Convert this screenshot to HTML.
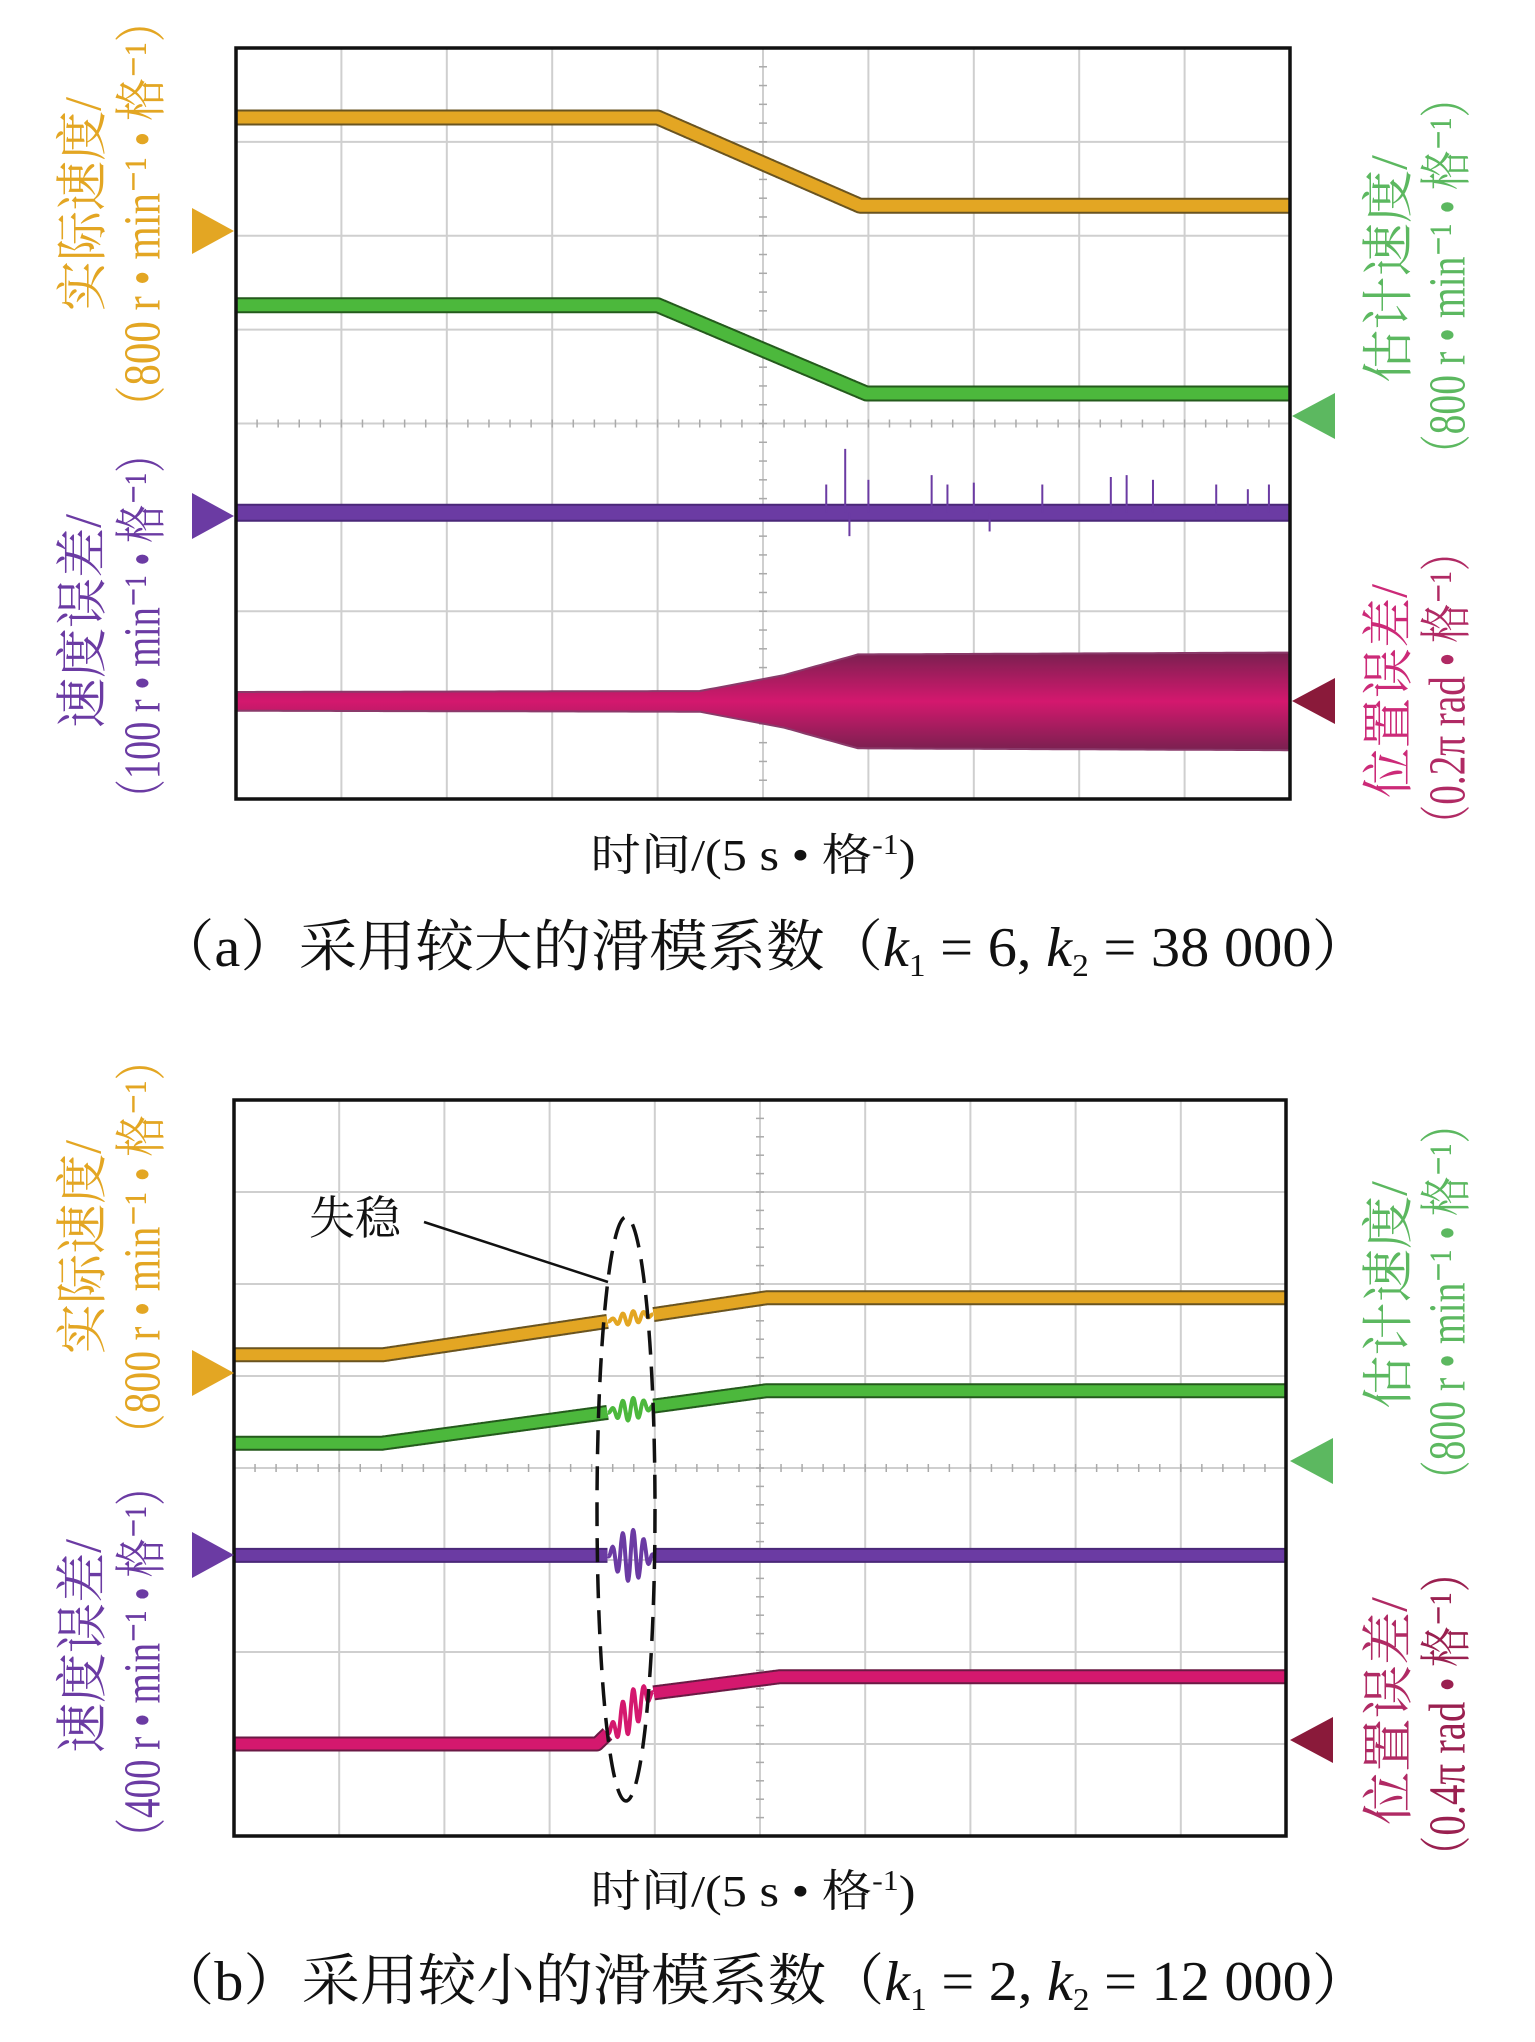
<!DOCTYPE html>
<html><head><meta charset="utf-8"><style>
body{margin:0;background:#fff}
svg{display:block}
text{font-family:"Liberation Serif","Noto Serif CJK SC",serif}
</style></head><body>
<svg id="fig" width="1535" height="2042" viewBox="0 0 1535 2042" xmlns="http://www.w3.org/2000/svg">
<defs>
<linearGradient id="magGrad" x1="0" y1="0" x2="0" y2="1">
<stop offset="0" stop-color="#7a2050"/><stop offset="0.5" stop-color="#d4186e"/><stop offset="1" stop-color="#7a2050"/>
</linearGradient>
</defs>
<g id="root"></g>
</svg>
<script>
// ---- data (time in divisions 0..10, values in divisions 0..8 from bottom) ----
const tOrangeA = [0, 4.0, 5.92, 10];
const vOrangeA = [7.26, 7.26, 6.32, 6.32];
const tGreenA = [0, 4.0, 5.98, 10];
const vGreenA = [5.26, 5.26, 4.32, 4.32];
const tPurpleA = [0, 10];
const vPurpleA = [3.05, 3.05];
const tMagA = [0, 10];
const vMagA = [1.04, 1.04];
const tMagAmpA = [0, 4.4, 5.2, 5.9, 10];
const vMagAmpA = [0.1, 0.11, 0.28, 0.5, 0.52];
const spikeT = [5.6, 5.78, 5.82, 6.0, 6.6, 6.75, 7.0, 7.15, 7.65, 8.3, 8.45, 8.7, 9.3, 9.6, 9.8];
const spikeH = [0.3, 0.68, -0.25, 0.35, 0.4, 0.3, 0.32, -0.2, 0.3, 0.38, 0.4, 0.35, 0.3, 0.25, 0.3];

const tOrangeB = [0, 1.41, 5.06, 10];
const vOrangeB = [5.23, 5.23, 5.85, 5.85];
const tGreenB = [0, 1.41, 5.06, 10];
const vGreenB = [4.27, 4.27, 4.84, 4.84];
const tPurpleB = [0, 10];
const vPurpleB = [3.05, 3.05];
const tMagB = [0, 3.45, 3.95, 5.18, 10];
const vMagB = [1.0, 1.0, 1.55, 1.73, 1.73];
const oscCenter = [3.77, 3.77, 3.77, 3.77];
const oscAmp = [0.07, 0.12, 0.28, 0.22];

const NS = "http://www.w3.org/2000/svg";
const root = document.getElementById('root');
function mk(tag, attrs, parent){const e=document.createElementNS(NS,tag);for(const k in attrs)e.setAttribute(k,attrs[k]);(parent||root).appendChild(e);return e;}

function interp(ts, vs, t){for(let i=0;i<ts.length-1;i++){if(t>=ts[i]&&t<=ts[i+1]){const f=(t-ts[i])/(ts[i+1]-ts[i]);return vs[i]+f*(vs[i+1]-vs[i]);}}return vs[vs.length-1];}

function makePanel(id, x0, y0, w, h){
  const P={x0,y0,w,h};
  P.X=t=>x0+t*w/10; P.Y=v=>y0+h-v*h/8;
  const g=mk('g',{});
  
  
  P.g=g;
  for(let i=1;i<10;i++){const l=mk('line',{x1:P.X(i),x2:P.X(i),y1:y0,y2:y0+h,stroke:'#cfcfcf','stroke-width':2},g);
    }
  for(let j=1;j<8;j++){const l=mk('line',{x1:x0,x2:x0+w,y1:P.Y(j),y2:P.Y(j),stroke:'#cfcfcf','stroke-width':2},g);
    }
  for(let k=0;k<=50;k++){const xx=x0+k*w/50;mk('line',{x1:xx,x2:xx,y1:P.Y(4)-4,y2:P.Y(4)+4,stroke:'#aaa','stroke-width':1.5},g);}
  for(let k=0;k<=40;k++){const yy=y0+k*h/40;mk('line',{x1:P.X(5)-4,x2:P.X(5)+4,y1:yy,y2:yy,stroke:'#aaa','stroke-width':1.5},g);}
  return P;
}
function frame(P,id){const r=mk('rect',{x:P.x0,y:P.y0,width:P.w,height:P.h,fill:'none',stroke:'#111','stroke-width':3.5},P.g);
  }

function poly(P,name,pts,color,edge,width){
  if(pts.length<2)return;
  const e=mk('polyline',{points:pts.join(' '),fill:'none',stroke:edge,'stroke-width':width+4,'stroke-linejoin':'round'},P.g);
  
  const l=mk('polyline',{points:pts.join(' '),fill:'none',stroke:color,'stroke-width':width,'stroke-linejoin':'round'},P.g);
  
}
function trace(P, name, ts, vs, color, edge, width, osc){
  const hw=0.22;
  const a=[],m=[],b=[];
  for(let i=0;i<=2000;i++){const t=i/200;let v=interp(ts,vs,t);
    const p=P.X(t).toFixed(1)+','+P.Y(v).toFixed(1);
    if(osc&&Math.abs(t-osc.c)<=hw){
      const vv=v+osc.a*Math.sin((t-osc.c)*2*Math.PI/0.1)*Math.cos((t-osc.c)/hw*Math.PI/2);
      m.push(P.X(t).toFixed(1)+','+P.Y(vv).toFixed(1));
    } else if(osc&&t>osc.c) b.push(p); else a.push(p);}
  poly(P,name,a,color,edge,width);
  poly(P,name+'-tail',b,color,edge,width);
  if(m.length){const l=mk('polyline',{points:m.join(' '),fill:'none',stroke:color,'stroke-width':4,'stroke-linejoin':'round'},P.g);
    }
}

function marker(x, y, dir, color, name){
  const d = dir>0 ? `M${x-42},${y-23} L${x},${y} L${x-42},${y+23}Z` : `M${x+43},${y-23} L${x},${y} L${x+43},${y+23}Z`;
  const p=mk('path',{d,fill:color});
  
}

function vtext(cx, cy, str, color, len, name){
  const t=mk('text',{x:cx,y:cy,fill:color,'font-size':52,'text-anchor':'middle','dominant-baseline':'central',transform:`rotate(-90 ${cx} ${cy})`,textLength:len,lengthAdjust:'spacingAndGlyphs'});
  t.textContent=str;
  
}
function htext(x, y, str, size, len, name){
  const t=mk('text',{x,y,fill:'#111','font-size':size,'text-anchor':'middle',textLength:len,lengthAdjust:'spacingAndGlyphs'});
  t.innerHTML=str;
  
}

const OR='#e3a623', GR='#4cb83c', PU='#6b3ba3', MA='#d4186e';
const ORe='#6a5420', GRe='#245a1c', PUe='#4a2878', MAe='#6a1a44';

// ---- Panel A ----
const A=makePanel('panel-a',236,48,1054,751);
trace(A,'actual-speed-a',tOrangeA,vOrangeA,OR,ORe,12);
trace(A,'estimated-speed-a',tGreenA,vGreenA,GR,GRe,12);
{const up=[],dn=[];for(let i=0;i<=200;i++){const t=i/20;const c=interp(tMagA,vMagA,t),a=interp(tMagAmpA,vMagAmpA,t);up.push(A.X(t).toFixed(1)+','+A.Y(c+a).toFixed(1));dn.unshift(A.X(t).toFixed(1)+','+A.Y(c-a).toFixed(1));}
 const p=mk('polygon',{points:up.concat(dn).join(' '),fill:'url(#magGrad)',stroke:'#8a3a6a','stroke-width':2},A.g);
 }
trace(A,'speed-error-a',tPurpleA,vPurpleA,PU,PUe,14);
spikeT.forEach((t,i)=>{const c=interp(tPurpleA,vPurpleA,t);const s=mk('line',{x1:A.X(t),x2:A.X(t),y1:A.Y(c),y2:A.Y(c+spikeH[i]),stroke:PU,'stroke-width':2},A.g);
  });
frame(A,'panel-a');

// ---- Panel B ----
const B=makePanel('panel-b',234,1100,1052,736);
trace(B,'actual-speed-b',tOrangeB,vOrangeB,OR,ORe,11,{c:oscCenter[0],a:oscAmp[0]});
trace(B,'estimated-speed-b',tGreenB,vGreenB,GR,GRe,11,{c:oscCenter[1],a:oscAmp[1]});
trace(B,'speed-error-b',tPurpleB,vPurpleB,PU,PUe,11,{c:oscCenter[2],a:oscAmp[2]});
trace(B,'position-error-b',tMagB,vMagB,MA,MAe,11,{c:oscCenter[3],a:oscAmp[3]});
frame(B,'panel-b');
{const e=mk('ellipse',{cx:626,cy:1509,rx:29,ry:292,fill:'none',stroke:'#111','stroke-width':3.5,'stroke-dasharray':'24 12'});
 
 const l=mk('line',{x1:424,y1:1222,x2:608,y2:1282,stroke:'#111','stroke-width':2.5});
 
 const t=mk('text',{x:309,y:1234,'font-size':46,fill:'#111'});t.textContent='失稳';
 }

// markers
marker(234,231,1,OR,'marker-actual-speed-a');
marker(234,516,1,PU,'marker-speed-error-a');
marker(1292,416,-1,'#5cb860','marker-estimated-speed-a');
marker(1292,701,-1,'#8a1a3a','marker-position-error-a');
marker(234,1373,1,OR,'marker-actual-speed-b');
marker(234,1555,1,PU,'marker-speed-error-b');
marker(1290,1461,-1,'#5cb860','marker-estimated-speed-b');
marker(1290,1740,-1,'#8a1a3a','marker-position-error-b');

// axis labels panel A
vtext(84,204,'实际速度/',OR,214,'y-label-actual-speed-a');
vtext(143,214,'（800 r • min⁻¹ • 格⁻¹）',OR,429,'y-unit-actual-speed-a');
vtext(84,621,'速度误差/',PU,214,'y-label-speed-error-a');
vtext(143,626,'（100 r • min⁻¹ • 格⁻¹）',PU,383,'y-unit-speed-error-a');
vtext(1390,269,'估计速度/','#5cb860',228,'y-label-estimated-speed-a');
vtext(1448,276,'（800 r • min⁻¹ • 格⁻¹）','#5cb860',396,'y-unit-estimated-speed-a');
vtext(1390,691,'位置误差/','#cc2a78',214,'y-label-position-error-a');
vtext(1448,688,'（0.2π rad • 格⁻¹）','#b02a64',312,'y-unit-position-error-a');
htext(753,870,'时间/(5 s • 格<tspan font-size="28" dy="-16">-1</tspan><tspan dy="16">)</tspan>',44,325,'x-axis-title-a');
htext(763,966,'（a）采用较大的滑模系数（<tspan font-style="italic">k</tspan><tspan font-size="32" dy="10">1</tspan><tspan dy="-10"> = 6, </tspan><tspan font-style="italic">k</tspan><tspan font-size="32" dy="10">2</tspan><tspan dy="-10"> = 38 000）</tspan>',56,1214,'caption-a');

// axis labels panel B
vtext(84,1247,'实际速度/',OR,214,'y-label-actual-speed-b');
vtext(143,1247,'（800 r • min⁻¹ • 格⁻¹）',OR,416,'y-unit-actual-speed-b');
vtext(84,1646,'速度误差/',PU,214,'y-label-speed-error-b');
vtext(143,1662,'（400 r • min⁻¹ • 格⁻¹）',PU,390,'y-unit-speed-error-b');
vtext(1390,1295,'估计速度/','#5cb860',228,'y-label-estimated-speed-b');
vtext(1448,1302,'（800 r • min⁻¹ • 格⁻¹）','#5cb860',396,'y-unit-estimated-speed-b');
vtext(1390,1711,'位置误差/','#b02a64',228,'y-label-position-error-b');
vtext(1448,1714,'（0.4π rad • 格⁻¹）','#9a2050',325,'y-unit-position-error-b');
htext(753,1906,'时间/(5 s • 格<tspan font-size="28" dy="-16">-1</tspan><tspan dy="16">)</tspan>',44,325,'x-axis-title-b');
htext(763,2000,'（b）采用较小的滑模系数（<tspan font-style="italic">k</tspan><tspan font-size="32" dy="10">1</tspan><tspan dy="-10"> = 2, </tspan><tspan font-style="italic">k</tspan><tspan font-size="32" dy="10">2</tspan><tspan dy="-10"> = 12 000）</tspan>',56,1214,'caption-b');
</script>
</body></html>
